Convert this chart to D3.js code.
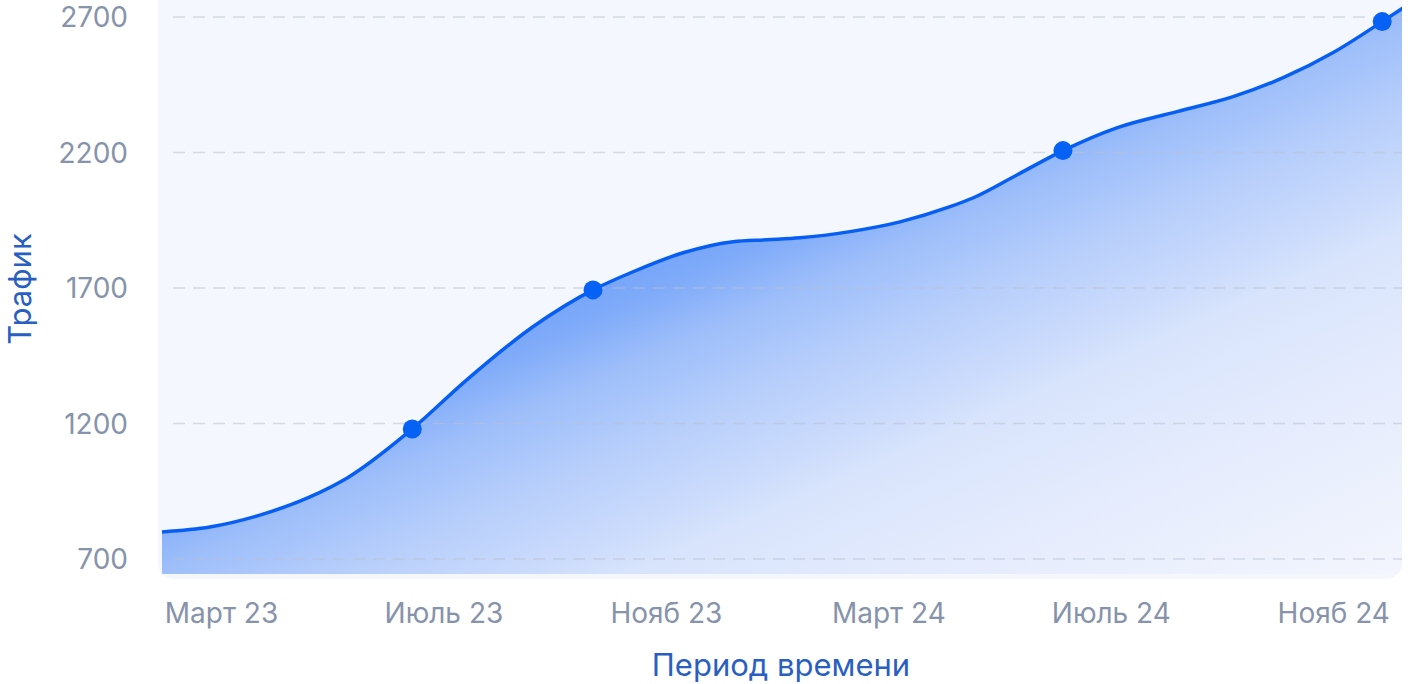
<!DOCTYPE html>
<html>
<head>
<meta charset="utf-8">
<script src="https://cdn.jsdelivr.net/npm/d3@7"></script>
<style>
  html, body { margin: 0; padding: 0; background: #ffffff; }
  svg { display: block; }
</style>
</head>
<body>
<div id="chart"></div>
<script>
// months counted from "Март 23" (0)
var months  = [-1.06, -0.2, 0.7, 1.6, 2.27, 3.44, 4.42, 5.61, 6.69, 7.41, 8.31, 9.21, 9.82,
               10.41, 11.31, 12.21, 13.11, 13.53, 14.32, 15.14, 16.12, 17.19, 18.2, 19.1, 20.0, 20.88, 21.29];
var traffic = [800, 818, 862, 929, 999, 1180, 1361, 1557, 1693, 1760, 1830, 1871, 1878,
               1885, 1908, 1944, 2000, 2033, 2118, 2207, 2292, 2351, 2406, 2476, 2569, 2683, 2738];

var markerMonths = [3.44, 6.69, 15.14, 20.88];
var markerValues = [1180, 1693, 2207, 2683];

var tickMonths = [0, 4, 8, 12, 16, 20];
var tickLabels = ['Март 23', 'Июль 23', 'Нояб 23', 'Март 24', 'Июль 24', 'Нояб 24'];
var yTicks = [700, 1200, 1700, 2200, 2700];

var width = 1408;
var height = 684;
var mainFont = 'Inter, "Noto Sans", sans-serif';
var tickColor = '#8793ab';
var titleColor = '#2a5fc2';
var lineColor = '#075ef3';

var plotLeft = 162, plotRight = 1405, plotBottom = 574;

var x = d3.scaleLinear()
    .domain([-1.06, 21.29])
    .range([plotLeft, plotRight]);

var y = d3.scaleLinear()
    .domain([700, 2700])
    .range([559, 17]);

var svg = d3.select('#chart').append('svg')
    .attr('width', width)
    .attr('height', height);

var defs = svg.append('defs');

// fade runs at a slant: isolines go from lower-left up to the right
var grad = defs.append('linearGradient')
    .attr('id', 'areaFill')
    .attr('gradientUnits', 'userSpaceOnUse')
    .attr('x1', 201.5).attr('y1', 457.5)
    .attr('x2', 435).attr('y2', 988);
var stops = [[0, '#77a5f9'], [0.05, '#7eaaf9'], [0.155, '#9fbffa'], [0.19, '#a5c3fb'],
             [0.285, '#b8cffb'], [0.41, '#cbdbfc'], [0.48, '#d8e4fc'], [0.68, '#e4ebfd'],
             [1, '#f2f5fd']];
stops.forEach(function(s) {
    grad.append('stop').attr('offset', s[0]).attr('stop-color', s[1]);
});

defs.append('clipPath').attr('id', 'plotClip')
  .append('rect')
    .attr('x', 158).attr('y', -20)
    .attr('width', 1244).attr('height', 599)
    .attr('rx', 16).attr('ry', 16);

// panel background
svg.append('rect')
    .attr('x', 158)
    .attr('y', -20)
    .attr('width', 1244)
    .attr('height', 599)
    .attr('rx', 16)
    .attr('ry', 16)
    .style('fill', '#f4f7fd');

var points = months.map(function(m, i) { return [m, traffic[i]]; });

var area = d3.area()
    .x(function(d) { return x(d[0]); })
    .y0(plotBottom)
    .y1(function(d) { return y(d[1]); })
    .curve(d3.curveMonotoneX);

var line = d3.line()
    .x(function(d) { return x(d[0]); })
    .y(function(d) { return y(d[1]); })
    .curve(d3.curveMonotoneX);

var plot = svg.append('g').attr('clip-path', 'url(#plotClip)');

plot.append('path')
    .datum(points)
    .attr('d', area)
    .style('fill', 'url(#areaFill)');

// dashed grid (shows through the fill)
plot.append('g')
  .selectAll('line')
  .data(yTicks)
  .join('line')
    .attr('x1', 173)
    .attr('x2', 1402)
    .attr('y1', function(d) { return y(d); })
    .attr('y2', function(d) { return y(d); })
    .attr('stroke', 'rgba(185,193,210,0.55)')
    .attr('stroke-width', 1.5)
    .attr('stroke-dasharray', '12,8');

plot.append('path')
    .datum(points)
    .attr('d', line)
    .style('fill', 'none')
    .style('stroke', lineColor)
    .style('stroke-width', 3.5);

// markers
svg.append('g')
  .selectAll('circle')
  .data(markerMonths)
  .join('circle')
    .attr('cx', function(d) { return x(d); })
    .attr('cy', function(d, i) { return y(markerValues[i]); })
    .attr('r', 9.5)
    .style('fill', '#0562f5');

// y axis labels
var yAxis = svg.append('g')
    .attr('transform', 'translate(128,1)')
    .call(d3.axisLeft(y).tickValues(yTicks).tickFormat(d3.format('d'))
        .tickSize(0).tickPadding(0));
yAxis.select('.domain').remove();
yAxis.selectAll('text')
    .style('font-family', mainFont)
    .style('font-size', '28px')
    .style('fill', tickColor);

// x axis labels
var xAxis = svg.append('g')
    .attr('transform', 'translate(0,603)')
    .call(d3.axisBottom(x).tickValues(tickMonths)
        .tickFormat(function(d, i) { return tickLabels[i]; })
        .tickSize(0).tickPadding(0));
xAxis.select('.domain').remove();
xAxis.selectAll('text')
    .style('font-family', mainFont)
    .style('font-size', '28px')
    .style('fill', tickColor);

// axis titles
svg.append('text')
    .attr('x', 781)
    .attr('y', 676)
    .attr('text-anchor', 'middle')
    .style('font-family', mainFont)
    .style('font-size', '31px')
    .style('fill', titleColor)
    .text('Период времени');

svg.append('text')
    .attr('transform', 'translate(31,289) rotate(-90)')
    .attr('text-anchor', 'middle')
    .style('font-family', mainFont)
    .style('font-size', '31px')
    .style('fill', titleColor)
    .text('Трафик');
</script>
</body>
</html>
